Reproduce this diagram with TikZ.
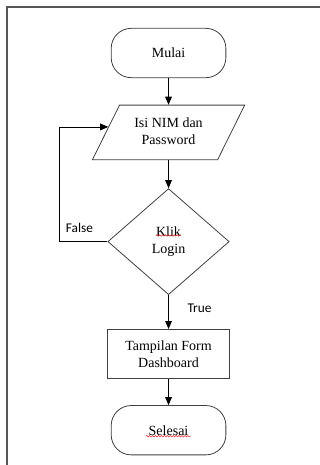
\documentclass[tikz,border=0pt]{standalone}
\usepackage{fontspec}
\setmainfont{Liberation Serif}
\newfontfamily\labelfont{Carlito}
\usepackage{xcolor}
\usepackage{tikz}
\usetikzlibrary{
    arrows.meta,
    positioning,
    shapes.geometric,
    calc,
    decorations.pathmorphing
}
\definecolor{shapeborder}{HTML}{404040}
\definecolor{frameborder}{HTML}{555555}
\definecolor{spellred}{HTML}{E03030}

\begin{document}
\begin{tikzpicture}[
    font=\fontsize{10.5}{13}\selectfont,
    term/.style={rectangle, rounded corners=15pt, draw=shapeborder, line width=0.6pt,
                 minimum width=86pt, minimum height=37pt, align=center},
    iobox/.style={trapezium, trapezium left angle=59, trapezium right angle=121,
                  trapezium stretches=true, draw=shapeborder, line width=0.6pt,
                  minimum width=115pt, minimum height=41pt, inner sep=1pt, align=center},
    decide/.style={diamond, draw=shapeborder, line width=0.6pt, aspect=1.14,
                   minimum width=91pt, minimum height=79.5pt, inner sep=0pt, align=center},
    procbox/.style={rectangle, draw=shapeborder, line width=0.6pt,
                    minimum width=91pt, minimum height=37pt, align=center},
    flow/.style={draw=black, line width=0.6pt, -{Triangle[length=6pt, width=5pt]}},
    branch/.style={font=\labelfont\fontsize{10}{12}\selectfont},
    spellmark/.style={draw=spellred, line width=0.4pt,
                      decorate, decoration={snake, amplitude=0.55pt, segment length=2.2pt}}
]

    % Page frame
    \useasboundingbox (0,0) rectangle (240pt,-348.75pt);
    \draw[frameborder, line width=1.5pt] (4.9pt,-360pt) |- (250pt,-5.6pt);

    % Steps
    \node[term] (start) at (126.4pt,-39.75pt) {Mulai};
    \node[iobox, below=20pt of start] (input) {Isi NIM dan\\Password\vphantom{y}};
    \node[decide, below=21pt of input] (login) {Klik\\Login};
    \node[procbox, below=25.5pt of login] (dashboard) {Tampilan Form\\Dashboard};
    \node[term, below=19.5pt of dashboard] (finish) {Selesai};

    % Connectors
    \draw[flow] (start) -- (input);
    \draw[flow] (input) -- (login);
    \draw[flow] (login) -- (dashboard);
    \draw[flow] (dashboard) -- (finish);

    % False loop back to input
    \coordinate (back) at (44.25pt,0);
    \coordinate (hit) at ($(input.top left corner)!0.4!(input.bottom left corner)$);
    \draw[flow] (login.west) -- (login.west -| back) |- (hit);

    % Branch labels
    \node[branch] (falselbl) at ([xshift=-21pt, yshift=10.5pt]login.west) {False};
    \node[branch] (truelbl) at ([xshift=23.25pt, yshift=-9.75pt]login.south) {True};

    % Spell check marks
    \draw[spellmark] ([xshift=-9.5pt, yshift=4.6pt]login.center) -- ([xshift=9.5pt, yshift=4.6pt]login.center);
    \draw[spellmark] ([xshift=-17pt, yshift=-4.5pt]finish.center) -- ([xshift=16.6pt, yshift=-4.5pt]finish.center);

\end{tikzpicture}
\end{document}
